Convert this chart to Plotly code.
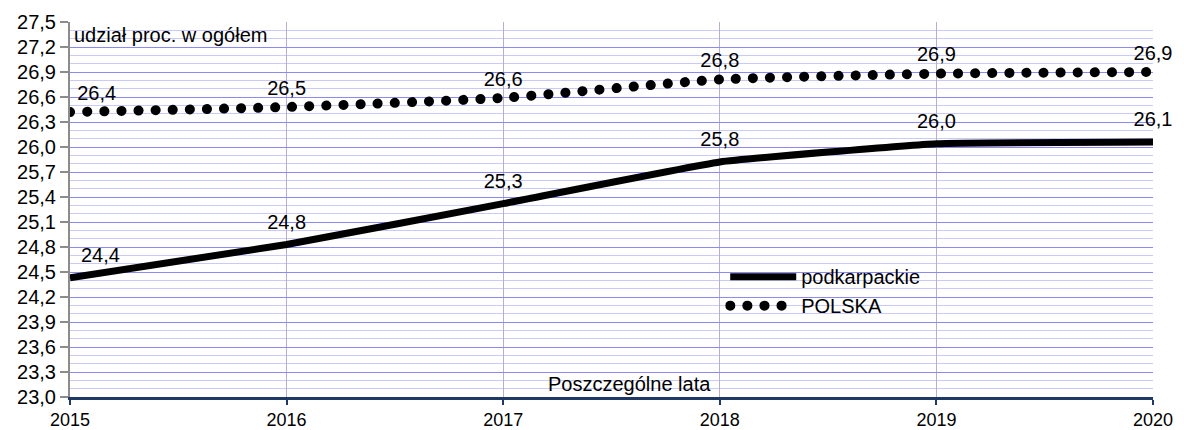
import plotly.graph_objects as go

years = [2015, 2016, 2017, 2018, 2019, 2020]
podkarpackie = [24.43, 24.83, 25.32, 25.82, 26.04, 26.06]
polska = [26.42, 26.48, 26.59, 26.81, 26.88, 26.9]
y_ticks = [round(23.0 + 0.3 * i, 1) for i in range(16)]

FONT = "Liberation Sans, Arial, sans-serif"
CLEAR = "rgba(0,0,0,0)"

fig = go.Figure()
fig.add_trace(go.Scatter(
    x=years, y=podkarpackie, name="podkarpackie", mode="lines+markers+text",
    line=dict(color="black", width=7, shape="spline", smoothing=0.3),
    marker=dict(size=16, color=CLEAR, line=dict(width=0, color=CLEAR)),
    texttemplate="%{y:.1f}", textposition=["top right"] + ["top center"] * 5,
    textfont=dict(family=FONT, size=20, color="black"),
    legendgroup="a", cliponaxis=False,
))
fig.add_trace(go.Scatter(
    x=years, y=polska, name="POLSKA", mode="lines+markers+text",
    line=dict(color="black", width=10, dash="0.1px,17px", shape="spline", smoothing=0.5),
    marker=dict(size=10, color=CLEAR, line=dict(width=0, color=CLEAR)),
    texttemplate="%{y:.1f}", textposition=["top right"] + ["top center"] * 5,
    textfont=dict(family=FONT, size=20, color="black"),
    legendgroup="b", cliponaxis=False,
))

# page body has an 8px margin, so the figure is sized/offset to compensate
fig.update_layout(
    width=1176, height=422,
    margin=dict(l=62, r=31, t=14, b=33, autoexpand=False),
    paper_bgcolor="white", plot_bgcolor="white",
    separators=", ",
    font=dict(family=FONT, size=20, color="black"),
    showlegend=True,
    legend=dict(x=0.605, y=0.373, xanchor="left", yanchor="top",
                bgcolor=CLEAR, font=dict(size=20),
                itemwidth=66, tracegroupgap=0),
    annotations=[
        dict(text="udział proc. w ogółem", xref="paper", yref="paper", x=0.002, y=0.999,
             xanchor="left", yanchor="top", showarrow=False, font=dict(size=20)),
        dict(text="Poszczególne lata", xref="paper", yref="paper", x=0.517, y=0.0,
             xanchor="center", yanchor="bottom", showarrow=False, font=dict(size=20)),
    ],
)
fig.update_xaxes(
    range=[2015, 2020], tickvals=years, ticktext=[str(y) for y in years],
    showgrid=True, gridcolor="#b8aed0", gridwidth=1,
    showline=True, linecolor="#1f3864", linewidth=3,
    ticks="outside", ticklen=5, tickcolor="#1f3864", tickwidth=2,
    ticklabelstandoff=-1,
    tickfont=dict(size=18), zeroline=False, automargin=False,
)
fig.update_yaxes(
    range=[23.0, 27.5], tickvals=y_ticks, tickformat=".1f",
    showgrid=True, gridcolor="#8a8af2", gridwidth=1,
    minor=dict(dtick=0.1, tick0=23.0, showgrid=True, gridcolor="#cacaf8", gridwidth=1),
    showline=True, linecolor="#8c8c8c", linewidth=2,
    ticks="outside", ticklen=8, tickcolor="#8c8c8c", tickwidth=2,
    tickfont=dict(size=20), zeroline=False, automargin=False,
)

post = """
function roundDots(){
  document.querySelectorAll('path').forEach(function(p){
    var s = p.getAttribute('style')||'';
    if (s.indexOf('17px')>=0) { p.style.strokeLinecap='round'; }
  });
}
roundDots();
var gd = document.getElementsByClassName('plotly-graph-div')[0];
if (gd && gd.on) { gd.on('plotly_afterplot', roundDots); }
"""
fig.write_html("out.html", post_script=post)
